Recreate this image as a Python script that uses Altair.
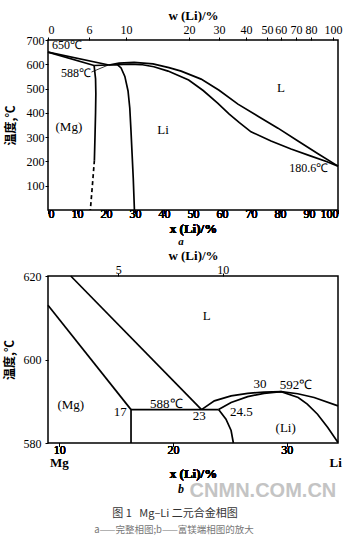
import altair as alt
import pandas as pd

# ---------------- Panel a: complete diagram (x in at.% Li, T in degC) ----------------
mg_liq_x = [0, 21.0]
mg_liq_t = [650, 597]
mg_sol_x = [0, 15.9]
mg_sol_t = [650, 595]
eut_a_x = [15.9, 21.0]
eut_a_t = [595, 597]
mg_solvus_x = [15.9, 16.4, 16.5, 16.4, 16.2, 16.0]
mg_solvus_t = [595, 540, 480, 400, 300, 205]
mg_solvus_dash_x = [16.0, 15.3, 14.6]
mg_solvus_dash_t = [205, 100, 0]
li_solvus_x = [21.0, 24.0, 25.2, 26.5, 27.6, 28.2, 28.6, 29.0, 29.4, 29.8]
li_solvus_t = [597, 598, 585, 550, 490, 420, 330, 230, 130, 0]
li_liq_x = [21.0, 24.5, 29.7, 36.2, 41.7, 45.9, 52.8, 59.0, 65.5, 72.4, 79.3, 86.2, 93.1, 100]
li_liq_t = [597, 605, 608, 602, 586, 572, 539, 493, 436, 386, 337, 284, 232, 180.6]
li_sol_x = [24.0, 28.0, 32.1, 36.5, 41.4, 48.5, 53.5, 58.5, 62.5, 66.0, 70.0, 76.9, 83.8, 90.7, 96.0, 100]
li_sol_t = [598, 601, 599, 590, 572, 535, 492, 440, 395, 360, 322, 284, 251, 222, 200, 180.6]
leader_x = [15.0, 20.8]
leader_t = [568, 597]

a_lab_text = ["(Mg)", "Li", "L"]
a_lab_x = [7.2, 39.7, 80.3]
a_lab_t = [341, 329, 501]
a_llab_text = ["650\u2103"]
a_llab_x = [1.4]
a_llab_t = [678]
a_rlab_text = ["588\u2103", "180.6\u2103"]
a_rlab_x = [14.8, 96.6]
a_rlab_t = [563, 173]
a_name_text = ["a"]
a_name_x = [45.9]
a_name_t = [-132.0]

a_w_ticks_pos = [0, 14.1, 26.9, 48.6, 59.0, 68.3, 75.5, 80.3, 85.5, 90.7, 98.3]
a_w_ticks_lab = ["0", "6", "10", "20", "30", "40", "50", "60", "70", "80", "100"]
a_x_ticks = [0, 10, 20, 30, 40, 50, 60, 70, 80, 90, 100]
a_y_ticks = [100, 200, 300, 400, 500, 600, 700]

# ---------------- Panel b: Mg-rich end enlarged ----------------
b_mg_liq_x = [11.0, 22.5]
b_mg_liq_t = [620, 588]
b_mg_sol_x = [9.0, 16.3]
b_mg_sol_t = [613, 588]
b_eut_x = [16.3, 24.0]
b_eut_t = [588, 588]
b_mg_solvus_x = [16.3, 16.3]
b_mg_solvus_t = [588, 580]
b_li_solvus_x = [24.0, 24.65, 25.1, 25.3]
b_li_solvus_t = [588, 585.7, 583.0, 580]
b_li_liq_x = [22.5, 23.63, 25.1, 26.56, 28.0, 29.5, 30.96, 32.4, 34.5]
b_li_liq_t = [588, 590.1, 591.3, 591.9, 592.2, 592.3, 591.8, 590.9, 588.9]
b_li_sol_x = [24.0, 25.1, 26.56, 28.0, 29.5, 31.0, 31.8, 32.7, 33.6, 34.5]
b_li_sol_t = [588, 589.7, 591.1, 591.9, 592.3, 590.9, 589.3, 586.9, 583.7, 580.1]

b_lab_text = ["L", "(Mg)", "17", "588\u2103", "23", "24.5", "30", "592\u2103", "(Li)"]
b_lab_x = [22.96, 11.0, 15.36, 19.4, 22.3, 26.0, 27.65, 30.8, 29.9]
b_lab_t = [610.4, 589.1, 587.5, 589.4, 586.5, 587.5, 594.2, 593.9, 583.7]
b_end_text = ["Mg", "Li"]
b_end_x = [10.0, 34.3]
b_end_t = [575.2, 575.2]
b_name_text = ["b"]
b_name_x = [20.7]
b_name_t = [569.0]
watermark_text = ["CNMN.COM.CN"]
watermark_x = [27.9]
watermark_t = [568.6]
caption1_text = ["图 1\u00a0\u00a0\u00a0Mg–Li 二元合金相图"]
caption1_x = [20.17]
caption1_t = [563.0]
caption2_text = ["a——完整相图;b——富镁端相图的放大"]
caption2_x = [20.08]
caption2_t = [559.1]

b_w_ticks_pos = [15.18, 24.36]
b_w_ticks_lab = ["5", "10"]
b_x_ticks = [10, 20, 30]
b_y_ticks = [580, 600, 620]

SERIF = "Liberation Serif"
CJK = "Noto Sans CJK SC"
AX = dict(labelFont=SERIF, labelFontSize=12, labelColor="black", labelFontWeight="normal",
          titleFont=SERIF, titleFontSize=13, titleFontWeight="bold", titleColor="black",
          domain=False, grid=False, tickColor="black", tickSize=3, tickWidth=1)
AY = dict(AX, titleFont=CJK, titleFontSize=12)


def segs(items):
    frames = []
    for name, xs, ts in items:
        frames.append(pd.DataFrame({"seg": name, "x": xs, "t": ts, "o": list(range(len(xs)))}))
    return pd.concat(frames, ignore_index=True)


def tdf(xs, ts, texts):
    return pd.DataFrame({"x": xs, "t": ts, "text": texts})


def label_expr(pos, lab):
    return ("[" + ",".join("'%s'" % l for l in lab) + "][indexof([" +
            ",".join(str(p) for p in pos) + "], datum.value)]")


# ---------- panel a ----------
xa_scale = alt.Scale(domain=[0, 100], nice=False, zero=False)
ya_scale = alt.Scale(domain=[0, 700], nice=False, zero=False)
xa = alt.X("x:Q", scale=xa_scale,
           axis=alt.Axis(values=a_x_ticks, title="x (Li)/%", orient="bottom",
                         labelPadding=-5, titlePadding=3, **AX))
ya = alt.Y("t:Q", scale=ya_scale,
           axis=alt.Axis(values=a_y_ticks, title="温度,℃", labelPadding=1, titlePadding=9, **AY))

a_solid = segs([
    ("mgliq", mg_liq_x, mg_liq_t), ("mgsol", mg_sol_x, mg_sol_t), ("eut", eut_a_x, eut_a_t),
    ("mgsolvus", mg_solvus_x, mg_solvus_t), ("lisolvus", li_solvus_x, li_solvus_t),
    ("liliq", li_liq_x, li_liq_t), ("lisol", li_sol_x, li_sol_t),
])
a_dash = segs([("dash", mg_solvus_dash_x, mg_solvus_dash_t)])
a_lead = segs([("lead", leader_x, leader_t)])

a_lines = alt.Chart(a_solid).mark_line(color="black", strokeWidth=1.7).encode(
    x=xa, y=ya, detail="seg:N", order="o:Q")
a_dashed = alt.Chart(a_dash).mark_line(color="black", strokeWidth=1.7, strokeDash=[4, 3]).encode(
    x=xa, y=ya, detail="seg:N", order="o:Q")
a_leader = alt.Chart(a_lead).mark_line(color="black", strokeWidth=0.8).encode(
    x=xa, y=ya, detail="seg:N", order="o:Q")

a_txt_c = alt.Chart(tdf(a_lab_x, a_lab_t, a_lab_text)).mark_text(
    font=SERIF, fontSize=13, color="black", align="center", baseline="middle").encode(
    x=xa, y=ya, text="text:N")
a_txt_l = alt.Chart(tdf(a_llab_x, a_llab_t, a_llab_text)).mark_text(
    font=SERIF, fontSize=12, color="black", align="left", baseline="middle").encode(
    x=xa, y=ya, text="text:N")
a_txt_r = alt.Chart(tdf(a_rlab_x, a_rlab_t, a_rlab_text)).mark_text(
    font=SERIF, fontSize=12, color="black", align="right", baseline="middle").encode(
    x=xa, y=ya, text="text:N")
a_name = alt.Chart(tdf(a_name_x, a_name_t, a_name_text)).mark_text(
    font=SERIF, fontSize=11, fontStyle="italic", fontWeight="bold", color="black",
    baseline="middle").encode(x=xa, y=ya, text="text:N")

a_top = alt.Chart(pd.DataFrame({"x": a_w_ticks_pos, "t": [0] * len(a_w_ticks_pos)})).mark_point(
    opacity=0).encode(
    x=alt.X("x:Q", scale=xa_scale,
            axis=alt.Axis(orient="top", values=a_w_ticks_pos,
                          labelExpr=label_expr(a_w_ticks_pos, a_w_ticks_lab),
                          title="w (Li)/%", labelPadding=1, titlePadding=1, labelOverlap=False,
                          **AX)),
    y=ya)

panel_a = alt.layer(a_lines, a_dashed, a_leader, a_txt_c, a_txt_l, a_txt_r, a_name, a_top).resolve_axis(
    x="independent").properties(width=290, height=170)

# ---------- panel b ----------
xb_scale = alt.Scale(domain=[9.0, 34.5], nice=False, zero=False)
yb_scale = alt.Scale(domain=[580, 620], nice=False, zero=False)
xb = alt.X("x:Q", scale=xb_scale,
           axis=alt.Axis(values=b_x_ticks, title="x (Li)/%", orient="bottom",
                         labelPadding=-2, titlePadding=12, **AX))
yb = alt.Y("t:Q", scale=yb_scale,
           axis=alt.Axis(values=b_y_ticks, title="温度,℃", labelPadding=4, titlePadding=7, **AY))

b_solid = segs([
    ("mgliq", b_mg_liq_x, b_mg_liq_t), ("mgsol", b_mg_sol_x, b_mg_sol_t), ("eut", b_eut_x, b_eut_t),
    ("mgsolvus", b_mg_solvus_x, b_mg_solvus_t), ("lisolvus", b_li_solvus_x, b_li_solvus_t),
    ("liliq", b_li_liq_x, b_li_liq_t), ("lisol", b_li_sol_x, b_li_sol_t),
])
b_lines = alt.Chart(b_solid).mark_line(color="black", strokeWidth=1.7).encode(
    x=xb, y=yb, detail="seg:N", order="o:Q")
b_txt = alt.Chart(tdf(b_lab_x, b_lab_t, b_lab_text)).mark_text(
    font=SERIF, fontSize=13, color="black", align="center", baseline="middle").encode(
    x=xb, y=yb, text="text:N")
b_ends = alt.Chart(tdf(b_end_x, b_end_t, b_end_text)).mark_text(
    font=SERIF, fontSize=13, fontWeight="bold", color="black", align="center", baseline="middle").encode(
    x=xb, y=yb, text="text:N")
b_name = alt.Chart(tdf(b_name_x, b_name_t, b_name_text)).mark_text(
    font=SERIF, fontSize=12, fontStyle="italic", fontWeight="bold", color="black",
    baseline="middle").encode(x=xb, y=yb, text="text:N")
b_wm = alt.Chart(tdf(watermark_x, watermark_t, watermark_text)).mark_text(
    font="Liberation Sans", fontSize=20, fontWeight="bold", color="#c4c4c4",
    baseline="middle").encode(x=xb, y=yb, text="text:N")
b_cap1 = alt.Chart(tdf(caption1_x, caption1_t, caption1_text)).mark_text(
    font=CJK, fontSize=11, color="#333333", baseline="middle").encode(
    x=xb, y=yb, text="text:N")
b_cap2 = alt.Chart(tdf(caption2_x, caption2_t, caption2_text)).mark_text(
    font=CJK, fontSize=9.5, color="#777777", baseline="middle").encode(
    x=xb, y=yb, text="text:N")

b_top = alt.Chart(pd.DataFrame({"x": b_w_ticks_pos, "t": [600] * len(b_w_ticks_pos)})).mark_point(
    opacity=0).encode(
    x=alt.X("x:Q", scale=xb_scale,
            axis=alt.Axis(orient="top", values=b_w_ticks_pos,
                          labelExpr=label_expr(b_w_ticks_pos, b_w_ticks_lab),
                          title="w (Li)/%", labelPadding=-3, titlePadding=1, **AX)),
    y=yb)

panel_b = alt.layer(b_lines, b_txt, b_ends, b_name, b_wm, b_cap1, b_cap2, b_top).resolve_axis(
    x="independent").properties(width=290, height=167)

chart = alt.vconcat(panel_a, panel_b, spacing=66, bounds="flush").properties(
    padding={"left": 2, "top": 8, "right": 0, "bottom": 0}
).configure_view(stroke="black", strokeWidth=1.5)

chart.save("out.html", embed_options={"renderer": "svg", "actions": False})
